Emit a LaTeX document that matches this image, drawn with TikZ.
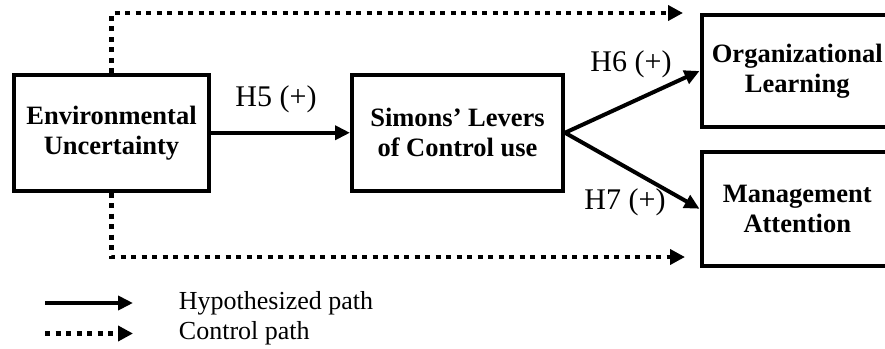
\documentclass[tikz,border=0pt]{standalone}
\usepackage{fontspec}
\setmainfont{Liberation Serif}
\usetikzlibrary{arrows.meta}

\tikzset{
  varbox/.style={draw, line width=4pt, align=center, inner sep=0pt,
    font=\fontsize{26.5}{30}\selectfont\bfseries},
  hyppath/.style={line width=4pt, -{Triangle[length=15pt,width=14pt]}},
  ctrlpath/.style={line width=4.5pt, dash pattern=on 5pt off 5.5pt,
    -{Triangle[length=15pt,width=15pt]}},
  pathlabel/.style={inner sep=0.75pt, font=\fontsize{30}{34}\selectfont},
  legendtext/.style={inner sep=0.75pt, anchor=west, font=\fontsize{26}{30}\selectfont}
}

\begin{document}
\begin{tikzpicture}[x=1pt,y=1pt,yscale=-1,xscale=1]
\useasboundingbox (0,0) rectangle (885,348);
\clip (0,0) rectangle (885,348);

%Shape: Rectangle
\node[varbox, minimum width=195pt, minimum height=115.5pt] (env) at (111.5,132.75) {Environmental\\Uncertainty};
%Shape: Rectangle
\node[varbox, minimum width=211pt, minimum height=115.5pt] (levers) at (457.5,132.75) {Simons’ Levers\\of Control use};
%Shape: Rectangle
\node[varbox, minimum width=191.5pt, minimum height=112pt] (orglearn) at (797.25,71) {Organizational\\Learning};
%Shape: Rectangle
\node[varbox, minimum width=191.5pt, minimum height=113.5pt] (mgmtatt) at (797.25,208.75) {Management\\Attention};

%Straight Lines
\draw[hyppath] (env.east) -- (levers.west);
\draw[hyppath] (levers.east) -- (orglearn.west);
\draw[hyppath] (levers.east) -- (mgmtatt.west);

%Control paths
\coordinate (topend) at (683,13);
\coordinate (botend) at (685,257);
\draw[ctrlpath] (env.north) |- (topend);
\draw[ctrlpath] (env.south) |- (botend);

% Text Node
\node[pathlabel] (h5) at (276,99) {H5 (+)};
% Text Node
\node[pathlabel] (h6) at (631,64) {H6 (+)};
% Text Node
\node[pathlabel] (h7) at (625,202) {H7 (+)};

%Legend
\coordinate (hypstart) at (45,303);
\coordinate (hypend) at (133,303);
\coordinate (ctrlstart) at (45,333.5);
\coordinate (ctrlend) at (133,333.5);
\draw[hyppath] (hypstart) -- (hypend);
\draw[ctrlpath] (ctrlstart) -- (ctrlend);
% Text Node
\node[legendtext] (hyptext) at (178,303) {Hypothesized path};
% Text Node
\node[legendtext] (ctrltext) at (178,333.5) {Control path};

\end{tikzpicture}
\end{document}
